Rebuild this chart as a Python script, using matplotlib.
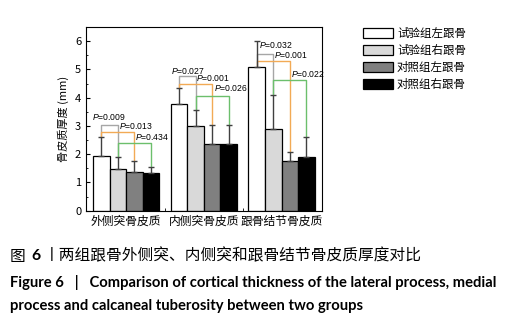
import matplotlib
matplotlib.use("Agg")
import matplotlib.pyplot as plt
import numpy as np
from matplotlib.patches import Patch
from matplotlib.ticker import MultipleLocator, FixedLocator

plt.rcParams['font.family'] = ['Noto Sans CJK SC', 'DejaVu Sans']
plt.rcParams['mathtext.fontset'] = 'custom'
plt.rcParams['mathtext.it'] = 'Liberation Sans:italic'
plt.rcParams['mathtext.rm'] = 'Liberation Sans'

# data
groups = ["外侧突骨皮质", "内侧突骨皮质", "跟骨结节骨皮质"]
series = ["试验组左跟骨", "试验组右跟骨", "对照组左跟骨", "对照组右跟骨"]
means = np.array([
    [1.95, 1.47, 1.38, 1.34],
    [3.76, 2.99, 2.35, 2.35],
    [5.08, 2.89, 1.77, 1.91],
])
err_top = np.array([
    [2.62, 1.90, 1.77, 1.56],
    [4.33, 3.55, 3.02, 3.02],
    [6.01, 4.08, 2.09, 2.60],
])
# significance brackets: group, bar a, bar b, bracket height, p value
brackets = [
    (0, 0, 1, 3.03, "0.009"),
    (0, 0, 2, 2.77, "0.013"),
    (0, 1, 3, 2.38, "0.434"),
    (1, 0, 1, 4.76, "0.027"),
    (1, 0, 2, 4.50, "0.001"),
    (1, 1, 3, 4.06, "0.026"),
    (2, 0, 1, 5.53, "0.032"),
    (2, 0, 2, 5.30, "0.001"),
    (2, 1, 3, 4.62, "0.022"),
]
# where each p label sits (left edge x, centre y) in data units
p_label_x = [-0.443, -0.088, 0.114, 0.578, 0.895, 1.131, 1.710, 1.907, 2.118]
p_label_y = [3.30, 3.01, 2.62, 4.94, 4.68, 4.33, 5.86, 5.51, 4.82]

colors = ["white", "#d9d9d9", "#808080", "black"]
br_colors = {(0, 1): "#a6a6a6", (0, 2): "#f2aa55", (1, 3): "#6cbf6c"}

fig = plt.figure(figsize=(5.14, 3.28), dpi=100)
ax = fig.add_axes([86 / 514, 1 - 210.7 / 328, 236 / 514, 183.7 / 328])

w = 0.213
x = np.arange(len(groups))
for i in range(len(series)):
    pos = x + (i - 1.5) * w
    ax.bar(pos, means[:, i], width=w, color=colors[i], edgecolor="black",
           linewidth=0.9, label=series[i], zorder=2)
    ax.errorbar(pos, means[:, i], yerr=[np.zeros(3), err_top[:, i] - means[:, i]],
                fmt="none", ecolor="#404040", elinewidth=1, capsize=2.5,
                capthick=1, zorder=3)

for k, (g, a, b, h, p) in enumerate(brackets):
    xa = g + (a - 1.5) * w
    xb = g + (b - 1.5) * w
    ya = err_top[g, a] if err_top[g, a] < h else means[g, a]
    yb = err_top[g, b]
    ax.plot([xa, xa, xb, xb], [ya, h, h, yb], color=br_colors[(a, b)], lw=1, zorder=1.5)
    ax.text(p_label_x[k], p_label_y[k], "$P$=" + p, fontsize=6.2, ha="left",
            va="center", family="Liberation Sans", zorder=4)

ax.set_xlim(-0.516, 2.52)
ax.set_ylim(0, 6.5)
ax.yaxis.set_major_locator(MultipleLocator(1))
ax.yaxis.set_minor_locator(MultipleLocator(0.5))
ax.set_xticks(x)
ax.set_xticklabels(groups, fontsize=8.5)
ax.xaxis.set_minor_locator(FixedLocator([0.5, 1.5]))
ax.tick_params(axis="x", which="major", length=0, pad=3)
ax.tick_params(axis="x", which="minor", direction="in", length=2)
ax.tick_params(axis="y", which="both", direction="in", labelsize=8)
ax.tick_params(axis="y", which="major", length=3)
ax.tick_params(axis="y", which="minor", length=1.5)
ax.set_ylabel("骨皮质厚度 (mm)", fontsize=8, labelpad=4)
for s in ax.spines.values():
    s.set_linewidth(0.8)

handles = [Patch(facecolor=colors[i], edgecolor="black", linewidth=0.9) for i in range(4)]
fig.legend(handles, series, loc="upper left", bbox_to_anchor=(363 / 514, 1 - 27 / 328),
           frameon=False, fontsize=8.3, handlelength=2.6, handleheight=1.0,
           labelspacing=0.35, handletextpad=0.35, borderaxespad=0, borderpad=0)

# caption
fig.text(10 / 514, 1 - 256 / 328, "图", fontsize=11.3, va="center", ha="left")
fig.text(31 / 514, 1 - 256 / 328, "6", fontsize=11.3, weight="bold",
         family=["Lato", "DejaVu Sans"], va="center", ha="left")
fig.text(44 / 514, 1 - 256 / 328, "丨两组跟骨外侧突、内侧突和跟骨结节骨皮质厚度对比",
         fontsize=11.3, va="center", ha="left")
fig.text(10 / 514, 1 - 282 / 328,
         "Figure 6   |   Comparison of cortical thickness of the lateral process, medial",
         fontsize=10.6, weight="bold", family=["Lato", "DejaVu Sans"], va="center", ha="left")
fig.text(10 / 514, 1 - 306 / 328,
         "process and calcaneal tuberosity between two groups",
         fontsize=10.6, weight="bold", family=["Lato", "DejaVu Sans"], va="center", ha="left")

fig.savefig("out.png", dpi=100)
